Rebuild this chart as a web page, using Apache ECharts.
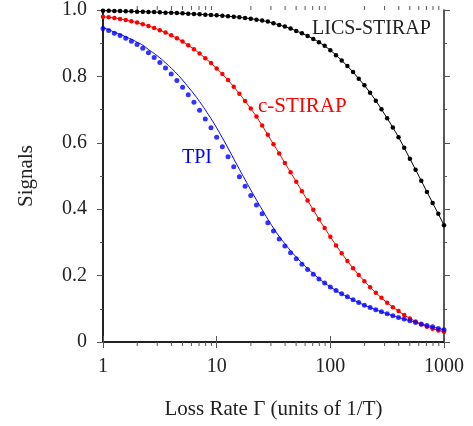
<!DOCTYPE html>
<html>
<head>
<meta charset="utf-8">
<script src="https://cdn.jsdelivr.net/npm/echarts@6/dist/echarts.min.js"></script>
<style>html,body{margin:0;padding:0;background:#fff}#c{width:473px;height:426px}</style>
</head>
<body>
<div id="c"></div>
<script>
// Loss rate grid (units of 1/T), 20 samples per decade
var lossRate = [
  1, 1.122, 1.259, 1.413, 1.585, 1.778, 1.995, 2.239, 2.512, 2.818,
  3.162, 3.548, 3.981, 4.467, 5.012, 5.623, 6.310, 7.079, 7.943, 8.913,
  10, 11.22, 12.59, 14.13, 15.85, 17.78, 19.95, 22.39, 25.12, 28.18,
  31.62, 35.48, 39.81, 44.67, 50.12, 56.23, 63.10, 70.79, 79.43, 89.13,
  100, 112.2, 125.9, 141.3, 158.5, 177.8, 199.5, 223.9, 251.2, 281.8,
  316.2, 354.8, 398.1, 446.7, 501.2, 562.3, 631.0, 707.9, 794.3, 891.3,
  1000
];
var licsStirap = [
  0.998, 0.998, 0.997, 0.997, 0.996, 0.996, 0.995, 0.995, 0.994, 0.994,
  0.993, 0.992, 0.992, 0.991, 0.990, 0.989, 0.988, 0.987, 0.986, 0.985,
  0.984, 0.983, 0.981, 0.980, 0.978, 0.976, 0.974, 0.971, 0.968, 0.965,
  0.960, 0.955, 0.950, 0.944, 0.937, 0.930, 0.922, 0.913, 0.903, 0.892,
  0.879, 0.864, 0.848, 0.831, 0.813, 0.793, 0.773, 0.751, 0.727, 0.701,
  0.674, 0.646, 0.617, 0.585, 0.552, 0.519, 0.486, 0.452, 0.419, 0.386,
  0.352
];
var cStirap = [
  0.980, 0.978, 0.976, 0.973, 0.970, 0.966, 0.962, 0.957, 0.952, 0.946,
  0.939, 0.932, 0.924, 0.915, 0.905, 0.894, 0.882, 0.869, 0.855, 0.840,
  0.824, 0.807, 0.789, 0.769, 0.748, 0.726, 0.703, 0.679, 0.652, 0.624,
  0.596, 0.568, 0.539, 0.511, 0.483, 0.454, 0.426, 0.398, 0.370, 0.343,
  0.317, 0.291, 0.267, 0.244, 0.222, 0.202, 0.183, 0.165, 0.148, 0.133,
  0.118, 0.105, 0.093, 0.081, 0.071, 0.062, 0.053, 0.046, 0.040, 0.035,
  0.031
];
var tpiDots = [
  0.944, 0.938, 0.930, 0.923, 0.915, 0.906, 0.896, 0.885, 0.871, 0.857,
  0.842, 0.825, 0.807, 0.788, 0.767, 0.745, 0.722, 0.698, 0.672, 0.645,
  0.617, 0.588, 0.558, 0.528, 0.498, 0.469, 0.441, 0.413, 0.386, 0.359,
  0.334, 0.310, 0.289, 0.269, 0.251, 0.234, 0.218, 0.204, 0.190, 0.178,
  0.166, 0.155, 0.145, 0.136, 0.127, 0.119, 0.111, 0.104, 0.097, 0.091,
  0.085, 0.079, 0.074, 0.069, 0.064, 0.059, 0.054, 0.050, 0.046, 0.041,
  0.037
];
var tpiLine = [
  0.946, 0.941, 0.933, 0.927, 0.919, 0.912, 0.903, 0.894, 0.881, 0.869,
  0.856, 0.841, 0.825, 0.808, 0.789, 0.768, 0.747, 0.724, 0.699, 0.673,
  0.645, 0.615, 0.584, 0.552, 0.520, 0.489, 0.458, 0.428, 0.399, 0.370,
  0.343, 0.318, 0.296, 0.275, 0.256, 0.238, 0.221, 0.206, 0.191, 0.178,
  0.166, 0.155, 0.145, 0.136, 0.127, 0.119, 0.111, 0.104, 0.097, 0.091,
  0.085, 0.079, 0.074, 0.069, 0.064, 0.059, 0.054, 0.050, 0.046, 0.041,
  0.037
];
var xMinorTicks = [2,3,4,5,6,7,8,9,20,30,40,50,60,70,80,90,200,300,400,500,600,700,800,900];
var seriesNames = ['LICS-STIRAP', 'c-STIRAP', 'TPI'];

function pairs(ys) { return ys.map(function (y, i) { return [lossRate[i], y]; }); }

var FONT = '"Liberation Serif", "Times New Roman", serif';
var chart = echarts.init(document.getElementById('c'), null, { renderer: 'canvas' });

function xLogAxis(pos, showLabel, lw) {
  return {
    type: 'log', logBase: 10, min: 1, max: 1000, position: pos, gridIndex: 0,
    axisLine: { show: true, lineStyle: { color: '#222', width: lw } },
    axisTick: { show: true, inside: false, length: 6, lineStyle: { color: '#555', width: 1 } },
    axisLabel: { show: showLabel, margin: 15, fontFamily: FONT, fontSize: 20, color: '#222',
      formatter: function (v) { return String(Math.round(v)); } },
    splitLine: { show: false }, minorTick: { show: false }, minorSplitLine: { show: false }
  };
}

var xMain = xLogAxis('bottom', true, 2);
xMain.name = 'Loss Rate \u0393 (units of 1/T)';
xMain.nameLocation = 'middle';
xMain.nameGap = 57;
xMain.nameTextStyle = { fontFamily: FONT, fontSize: 21, color: '#222' };

function yAxisBase(pos, showLabel, lw) {
  return {
    type: 'value', min: 0, max: 1, interval: 0.2, position: pos, gridIndex: 0,
    axisLine: { show: true, lineStyle: { color: '#222', width: lw } },
    axisTick: { show: true, inside: false, length: 6, lineStyle: { color: '#555', width: 1 } },
    minorTick: { show: true, splitNumber: 2, length: 3, lineStyle: { color: '#555', width: 1 } },
    axisLabel: { show: showLabel, margin: 16, fontFamily: FONT, fontSize: 20, color: '#222',
      formatter: function (v) { return v === 0 ? '0' : v.toFixed(1); } },
    splitLine: { show: false }
  };
}
var yMain = yAxisBase('left', true, 2);
yMain.name = 'Signals';
yMain.nameLocation = 'middle';
yMain.nameGap = 66;
yMain.nameTextStyle = { fontFamily: FONT, fontSize: 21, color: '#222' };

// minor ticks of the log x axis (bottom and top), placed through the axis scale
function renderMinorTick(params, api) {
  var v = api.value(0);
  var pb = api.coord([v, 0]);
  var pt = api.coord([v, 1]);
  var st = { stroke: '#555', lineWidth: 1 };
  return {
    type: 'group',
    children: [
      { type: 'line', shape: { x1: pb[0], y1: pb[1], x2: pb[0], y2: pb[1] + 4 }, style: st },
      { type: 'line', shape: { x1: pt[0], y1: pt[1], x2: pt[0], y2: pt[1] - 4 }, style: st }
    ]
  };
}

var option = {
  animation: false,
  backgroundColor: '#fff',
  grid: { left: 103, right: 29, top: 10, bottom: 84, containLabel: false },
  xAxis: [
    xMain,
    xLogAxis('top', false, 1.5)
  ],
  yAxis: [
    yMain,
    yAxisBase('right', false, 1.5)
  ],
  series: [
    { name: 'minor ticks', type: 'custom', xAxisIndex: 0, yAxisIndex: 0, silent: true, clip: false,
      data: xMinorTicks.map(function (v) { return [v]; }), encode: { x: 0 },
      renderItem: renderMinorTick, z: 1 },
    { name: seriesNames[0], type: 'line', xAxisIndex: 0, yAxisIndex: 0, data: pairs(licsStirap),
      symbol: 'circle', symbolSize: 4.5, showSymbol: true, showAllSymbol: true,
      lineStyle: { color: '#000', width: 1 }, itemStyle: { color: '#000' }, z: 3 },
    { name: seriesNames[1], type: 'line', xAxisIndex: 0, yAxisIndex: 0, data: pairs(cStirap),
      symbol: 'circle', symbolSize: 4.5, showSymbol: true, showAllSymbol: true,
      lineStyle: { color: '#ff0000', width: 1 }, itemStyle: { color: '#ff0000' }, z: 3 },
    { name: seriesNames[2] + ' line', type: 'line', xAxisIndex: 0, yAxisIndex: 0, data: pairs(tpiLine),
      symbol: 'none', smooth: true, lineStyle: { color: '#0000ff', width: 1 }, z: 2 },
    { name: seriesNames[2], type: 'scatter', xAxisIndex: 0, yAxisIndex: 0, data: pairs(tpiDots),
      symbol: 'circle', symbolSize: 5, itemStyle: { color: '#0000ff' }, z: 4 }
  ],
  graphic: [
    { type: 'text', left: 312, top: 19, style: { text: seriesNames[0], font: '20px ' + FONT, fill: '#222' } },
    { type: 'text', left: 258, top: 96, style: { text: seriesNames[1], font: '21px ' + FONT, fill: '#ff0000' } },
    { type: 'text', left: 182, top: 148, style: { text: seriesNames[2], font: '20px ' + FONT, fill: '#0000ff' } }
  ]
};
chart.setOption(option);
</script>
</body>
</html>
